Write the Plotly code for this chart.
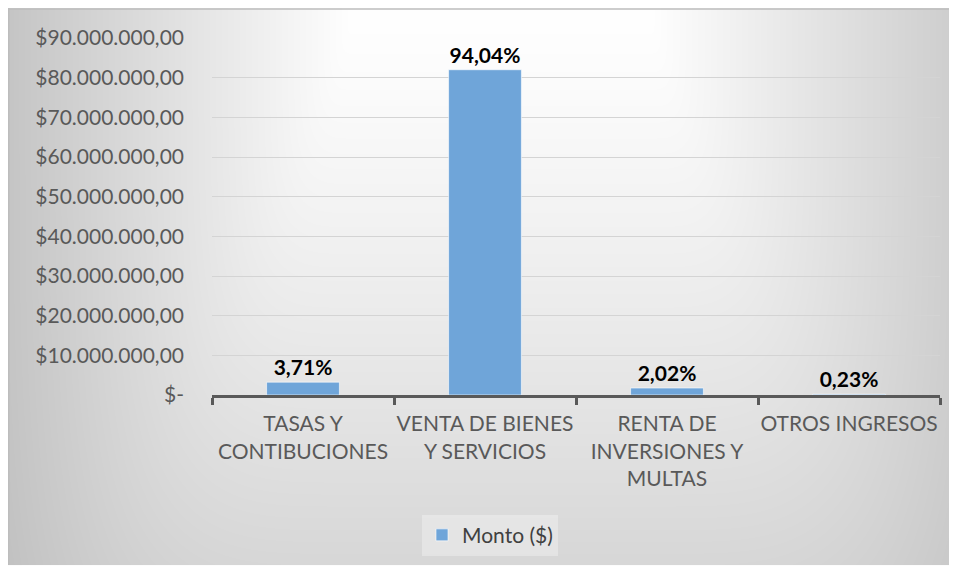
import base64, struct, zlib
import numpy as np
import plotly.graph_objects as go

categories = ["TASAS Y<br>CONTIBUCIONES", "VENTA DE BIENES<br>Y SERVICIOS",
              "RENTA DE<br>INVERSIONES Y<br>MULTAS", "OTROS INGRESOS"]
montos = [3240000, 82000000, 1760000, 200000]
porcentajes = ["3,71%", "94,04%", "2,02%", "0,23%"]
ytick_vals = [0, 10e6, 20e6, 30e6, 40e6, 50e6, 60e6, 70e6, 80e6, 90e6]
ytick_text = ["$-", "$10.000.000,00", "$20.000.000,00", "$30.000.000,00",
              "$40.000.000,00", "$50.000.000,00", "$60.000.000,00",
              "$70.000.000,00", "$80.000.000,00", "$90.000.000,00"]
serie = "Monto ($)"

# figure is placed at (8, 8) on the page by the default body margin
W, H = 949, 560
ML, MR, MT, MB = 204, 17, 30, 171
PW, PH = W - ML - MR, H - MT - MB


def px_x(x):
    return (x - ML) / PW


def px_y(y):
    return (H - MB - y) / PH


# background gradient (decorative) as a PNG, in figure pixels
FW, FH = W, H
xs = np.arange(FW)[None, :].astype(float)
ys = np.arange(FH)[:, None].astype(float)
h = np.where(xs < 345, (345 - xs) / 340 * 57, 0) + np.where(xs > 640, (xs - 640) / 300 * 48, 0)
g = 40 * (ys / 560) ** 1.2
d = (h ** 4 + g ** 4) ** 0.25
img = np.clip(255 - d, 0, 255).astype(np.uint8)


def png_gray(a):
    hh, ww = a.shape
    raw = b"".join(b"\x00" + a[i].tobytes() for i in range(hh))

    def chunk(t, data):
        c = struct.pack(">I", len(data)) + t + data
        return c + struct.pack(">I", zlib.crc32(t + data) & 0xffffffff)
    return (b"\x89PNG\r\n\x1a\n" + chunk(b"IHDR", struct.pack(">IIBBBBB", ww, hh, 8, 0, 0, 0, 0))
            + chunk(b"IDAT", zlib.compress(raw, 9)) + chunk(b"IEND", b""))


src = "data:image/png;base64," + base64.b64encode(png_gray(img)).decode()

FONT = "Lato"
border = dict(color="#bdbdbd", width=1.5)

fig = go.Figure()
fig.add_trace(go.Bar(
    x=categories, y=montos, name=serie, text=porcentajes,
    textposition="outside", cliponaxis=False,
    textfont=dict(family=FONT, size=21, color="#000000", weight="bold"),
    marker=dict(color="#6fa5d9", line=dict(color="rgba(255,255,255,0.6)", width=1)),
    showlegend=True,
))

fig.update_layout(
    width=W, height=H,
    margin=dict(l=ML, r=MR, t=MT, b=MB),
    paper_bgcolor="#ffffff", plot_bgcolor="rgba(0,0,0,0)",
    font=dict(family=FONT, size=21, color="#595959"),
    bargap=0.6,
    images=[dict(source=src, xref="paper", yref="paper",
                 x=px_x(0), y=px_y(0), sizex=FW / PW, sizey=FH / PH,
                 xanchor="left", yanchor="top", sizing="stretch", layer="below")],
    shapes=[dict(type="line", xref="paper", yref="paper",
                 x0=px_x(0), x1=px_x(W), y0=px_y(0.75), y1=px_y(0.75),
                 line=border, layer="below"),
            dict(type="line", xref="paper", yref="paper",
                 x0=px_x(0.75), x1=px_x(0.75), y0=px_y(0), y1=px_y(H),
                 line=border, layer="below")],
    legend=dict(orientation="h", x=px_x(482), y=px_y(530), xanchor="center", yanchor="middle",
                bgcolor="rgba(255,255,255,0.3)", font=dict(size=21, color="#404040")),
    xaxis=dict(showline=True, linecolor="#595959", linewidth=3, ticks="outside",
               tickson="boundaries", ticklen=7, tickwidth=3, tickcolor="#595959",
               ticklabelstandoff=8, tickangle=0, automargin=False,
               tickfont=dict(size=21, color="#595959"), showgrid=False),
    yaxis=dict(range=[0, 90e6], tickvals=ytick_vals, ticktext=ytick_text,
               showgrid=True, gridcolor="#d4d4d4", gridwidth=1, zeroline=False,
               showline=False, ticklabelstandoff=27, automargin=False,
               tickfont=dict(size=21, color="#595959")),
)

fig.write_html("out.html",
               post_script="document.documentElement.style.overflow='hidden';"
                           "document.body.style.overflow='hidden';")
